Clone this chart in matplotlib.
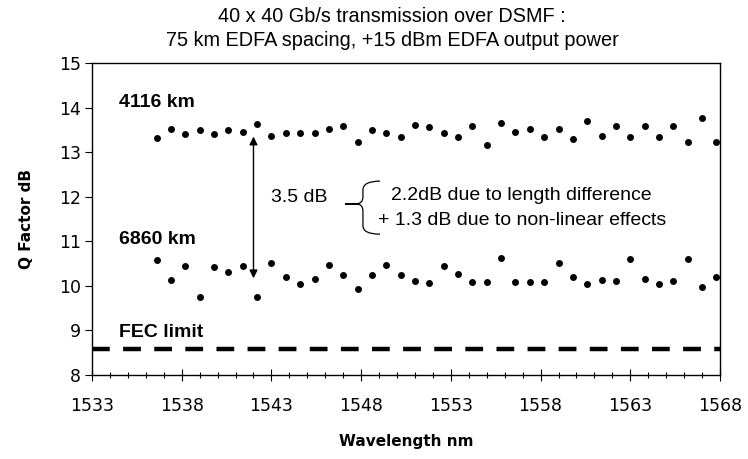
import numpy as np
import matplotlib
matplotlib.use("Agg")
import matplotlib.pyplot as plt
from matplotlib.path import Path
from matplotlib.patches import PathPatch
from matplotlib.ticker import MultipleLocator

# channel wavelengths (nm)
wavelength = [1536.6, 1537.4, 1538.2, 1539.0, 1539.8, 1540.6, 1541.4, 1542.2,
              1543.0, 1543.8, 1544.6, 1545.4, 1546.2, 1547.0, 1547.8, 1548.6,
              1549.4, 1550.2, 1551.0, 1551.8, 1552.6, 1553.4, 1554.2, 1555.0,
              1555.8, 1556.6, 1557.4, 1558.2, 1559.0, 1559.8, 1560.6, 1561.4,
              1562.2, 1563.0, 1563.8, 1564.6, 1565.4, 1566.2, 1567.0, 1567.8]

q_4116 = [13.32, 13.51, 13.41, 13.50, 13.41, 13.50, 13.45, 13.63, 13.36, 13.44,
          13.42, 13.44, 13.52, 13.59, 13.22, 13.50, 13.42, 13.35, 13.62, 13.56,
          13.42, 13.35, 13.59, 13.15, 13.66, 13.45, 13.52, 13.35, 13.51, 13.29,
          13.71, 13.37, 13.59, 13.35, 13.59, 13.35, 13.59, 13.23, 13.77, 13.23]

q_6860 = [10.59, 10.13, 10.45, 9.74, 10.42, 10.30, 10.45, 9.74, 10.52, 10.20,
          10.04, 10.15, 10.47, 10.24, 9.94, 10.25, 10.47, 10.24, 10.12, 10.07,
          10.45, 10.27, 10.09, 10.09, 10.63, 10.09, 10.09, 10.09, 10.52, 10.20,
          10.04, 10.14, 10.12, 10.60, 10.15, 10.04, 10.12, 10.60, 9.98, 10.21]

x_ticks = [1533, 1538, 1543, 1548, 1553, 1558, 1563, 1568]
fec_limit = 8.58

fig = plt.figure(figsize=(7.48, 4.59), dpi=100)
ax = fig.add_axes([0.123, 0.183, 0.8396, 0.6797])

ax.plot(wavelength, q_4116, "o", color="black", ms=5, mew=0)
ax.plot(wavelength, q_6860, "o", color="black", ms=5, mew=0)
ax.axhline(fec_limit, color="black", lw=3.2, dashes=(4.0, 3.0))

ax.set_xlim(1533, 1568)
ax.set_ylim(8, 15)
ax.set_xticks(x_ticks)
ax.set_xticks(range(1533, 1569), minor=True)
ax.yaxis.set_major_locator(MultipleLocator(1))
ax.tick_params(axis="x", which="major", direction="inout", length=9, width=0.8,
               labelsize=12.5, pad=11)
ax.tick_params(axis="x", which="minor", direction="inout", length=5, width=0.8)
ax.tick_params(axis="y", which="major", direction="out", length=5, width=0.8,
               labelsize=12.5, pad=3)
for s in ax.spines.values():
    s.set_linewidth(1.0)

ax.set_xlabel("Wavelength nm", fontsize=11, fontweight="bold", labelpad=14)
ax.set_ylabel("Q Factor dB", fontsize=11, fontweight="bold", labelpad=18)

fig.text(0.524, 1 - 16 / 459, "40 x 40 Gb/s transmission over DSMF :",
         family="Liberation Sans", fontsize=14.3, ha="center", va="center")
fig.text(0.524, 1 - 40 / 459, "75 km EDFA spacing, +15 dBm EDFA output power",
         family="Liberation Sans", fontsize=14.3, ha="center", va="center")

ax.text(1534.5, 14.11, "4116 km", family="Liberation Sans", fontsize=14,
        fontweight="bold", va="center")
ax.text(1534.5, 11.03, "6860 km", family="Liberation Sans", fontsize=14,
        fontweight="bold", va="center")
ax.text(1534.5, 8.96, "FEC limit", family="Liberation Sans", fontsize=14,
        fontweight="bold", va="center")

ax.annotate("", xy=(1542.0, 13.35), xytext=(1542.0, 10.17),
            arrowprops=dict(arrowstyle="<|-|>", color="black", lw=1,
                            mutation_scale=12, shrinkA=0, shrinkB=0))

ax.text(1543.0, 11.98, "3.5 dB", family="Liberation Sans", fontsize=14,
        va="center")
ax.text(1549.67, 12.03, "2.2dB due to length difference", family="Liberation Sans",
        fontsize=14, va="center")
ax.text(1548.92, 11.47, "+ 1.3 dB due to non-linear effects",
        family="Liberation Sans", fontsize=14, va="center")

# curly brace
verts = [(1549.05, 12.35), (1548.1, 12.35), (1548.1, 12.15),
         (1548.1, 12.0),
         (1548.1, 11.84), (1547.7, 11.84), (1547.1, 11.84),
         (1547.7, 11.84), (1548.1, 11.84), (1548.1, 11.68),
         (1548.1, 11.35),
         (1548.1, 11.16), (1549.05, 11.16)]
codes = [Path.MOVETO, Path.CURVE3, Path.CURVE3,
         Path.LINETO,
         Path.CURVE3, Path.CURVE3, Path.LINETO,
         Path.LINETO, Path.CURVE3, Path.CURVE3,
         Path.LINETO,
         Path.CURVE3, Path.CURVE3]
ax.add_patch(PathPatch(Path(verts, codes), fill=False, lw=0.9, color="black"))

fig.savefig("out.png", dpi=100)
